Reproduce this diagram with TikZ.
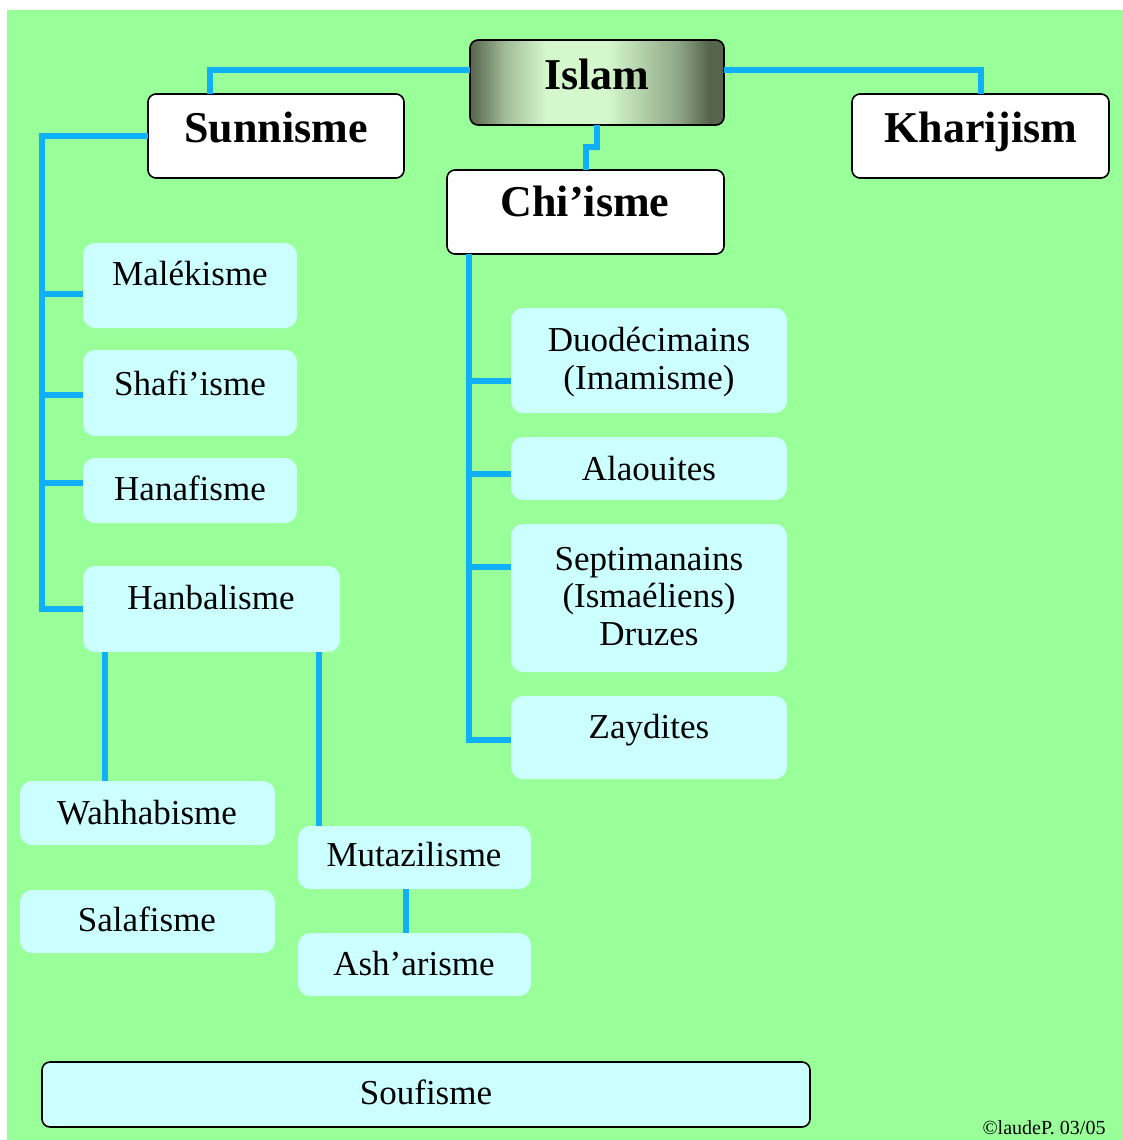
\documentclass[tikz,border=0pt]{standalone}
\usepackage{fontspec}
\setmainfont{Liberation Serif}
\usetikzlibrary{calc}
\definecolor{bg}{HTML}{99FF99}
\definecolor{cy}{HTML}{CCFFFF}
\definecolor{ln}{HTML}{10B0F8}
\definecolor{dk}{HTML}{56644C}
\definecolor{lt}{HTML}{D4F8CC}
\pgfdeclarehorizontalshading{islamsh}{100bp}{color(0bp)=(dk); color(25bp)=(dk); color(32bp)=(lt!60!dk); color(40bp)=(lt); color(52bp)=(lt); color(66bp)=(dk!55!lt); color(72bp)=(dk); color(100bp)=(dk)}
\begin{document}
\begin{tikzpicture}[x=1pt,y=-1pt,
  hbox/.style={draw=black, line width=1.6pt, fill=white, rounded corners=8pt, inner sep=0pt, outer sep=0pt, anchor=north west},
  cbox/.style={fill=cy, rounded corners=12pt, inner sep=0pt, outer sep=0pt, anchor=north west},
  conn/.style={draw=ln, line width=6pt, line join=miter},
  hd/.style={font=\bfseries\fontsize{44}{48}\selectfont, anchor=base, inner sep=0pt},
  lbl/.style={font=\fontsize{35}{37.5}\selectfont, anchor=base, inner sep=0pt, align=center}]
\useasboundingbox (0,0) rectangle (1123,1140);
\fill[white] (0,0) rectangle (1123,1140);
\fill[bg] (7,10) rectangle (1123,1140);

% header boxes
\node[hbox, draw=black, shading=islamsh, minimum width=254pt, minimum height=85pt] (islam) at (470,40) {};
\node[hbox, minimum width=256pt, minimum height=84pt] (sunni) at (148,94) {};
\node[hbox, minimum width=257pt, minimum height=84pt] (khar) at (852,94) {};
\node[hbox, minimum width=277pt, minimum height=84pt] (chi) at (447,170) {};

% sunni branch boxes
\node[cbox, minimum width=214pt, minimum height=85pt] (male) at (83,243) {};
\node[cbox, minimum width=214pt, minimum height=86pt] (shaf) at (83,350) {};
\node[cbox, minimum width=214pt, minimum height=65pt] (hana) at (83,458) {};
\node[cbox, minimum width=257pt, minimum height=86pt] (hanb) at (83,566) {};
\node[cbox, minimum width=255pt, minimum height=64pt] (wahh) at (20,781) {};
\node[cbox, minimum width=255pt, minimum height=63pt] (sala) at (20,890) {};
\node[cbox, minimum width=233pt, minimum height=63pt] (muta) at (298,826) {};
\node[cbox, minimum width=233pt, minimum height=63pt] (asha) at (298,933) {};

% chi branch boxes
\node[cbox, minimum width=276pt, minimum height=105pt] (duo) at (511,308) {};
\node[cbox, minimum width=276pt, minimum height=63pt] (alao) at (511,437) {};
\node[cbox, minimum width=276pt, minimum height=148pt] (sept) at (511,524) {};
\node[cbox, minimum width=276pt, minimum height=83pt] (zayd) at (511,696) {};

% soufisme
\node[hbox, fill=cy, minimum width=768pt, minimum height=65pt] (souf) at (42,1062) {};

% texts
\node[hd] (islamT) at (597,89) {Islam};
\node[hd] (sunniT) at (276,142) {Sunnisme};
\node[hd] (kharT) at (981,142) {Kharijism};
\node[hd] (chiT) at (585,216) {Chi’isme};
\node[lbl] (maleT) at (190,285) {Malékisme};
\node[lbl] (shafT) at (190,395) {Shafi’isme};
\node[lbl] (hanaT) at (190,500) {Hanafisme};
\node[lbl] (hanbT) at (211,609) {Hanbalisme};
\node[lbl] (wahhT) at (147,824) {Wahhabisme};
\node[lbl] (salaT) at (147,931) {Salafisme};
\node[lbl] (mutaT) at (414,866) {Mutazilisme};
\node[lbl] (ashaT) at (414,975) {Ash’arisme};
\node[lbl] (duoT) at (649,389) {Duodécimains\\(Imamisme)};
\node[lbl] (alaoT) at (649,480) {Alaouites};
\node[lbl] (septT) at (649,645) {Septimanains\\(Ismaéliens)\\Druzes};
\node[lbl] (zaydT) at (649,738) {Zaydites};
\node[lbl] (soufT) at (426,1104) {Soufisme};
\node[font=\fontsize{20}{22}\selectfont, anchor=base, inner sep=0pt] (copy) at (1044,1134) {©laudeP. 03/05};

% connectors
\draw[conn] ([yshift=12.5pt]islam.west) -| ([xshift=-66pt]sunni.north);
\draw[conn] ([yshift=12.5pt]islam.east) -| (khar.north);
\coordinate (jog) at ([yshift=-22pt]islam.south);
\draw[conn] (islam.south) -- (jog) -| (chi.north);
\coordinate (ss) at ([xshift=-106pt]sunni.west);
\draw[conn] (sunni.west) -- (ss) |- (hanb.west);
\draw[conn] ([yshift=-8pt]male.west) -| (ss);
\draw[conn] ([yshift=-2pt]shaf.west) -| (ss);
\draw[conn] ([yshift=8pt]hana.west) -| (ss);
\coordinate (hl) at ([xshift=22pt]hanb.south west);
\draw[conn] (hl) -- (hl |- wahh.north);
\coordinate (hr) at ([xshift=-21pt]hanb.south east);
\draw[conn] (hr) -- (hr |- muta.north);
\draw[conn] ([xshift=-9pt]muta.south) -- ([xshift=-9pt]asha.north);
\coordinate (cs) at ([xshift=22pt]chi.south west);
\draw[conn] (cs) |- ([yshift=-2pt]zayd.west);
\draw[conn] ([yshift=-20pt]duo.west) -| (cs);
\draw[conn] ([yshift=-5pt]alao.west) -| (cs);
\draw[conn] ([yshift=31pt]sept.west) -| (cs);
\end{tikzpicture}
\end{document}
